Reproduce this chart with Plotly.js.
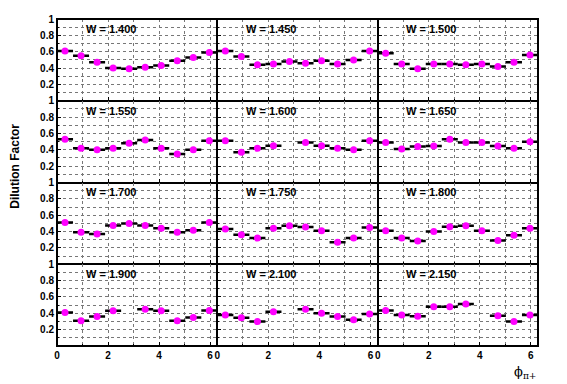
<!DOCTYPE html>
<html>
<head>
<meta charset="utf-8">
<script src="https://cdn.plot.ly/plotly-3.0.1.min.js"></script>
<style>
html,body{margin:0;padding:0;background:#fff;}
#chart{width:567px;height:384px;}
</style>
</head>
<body>
<div id="chart"></div>
<script>
// bin centres of phi_pi+ (10 bins over 0..2pi)
const phi = [0.314, 0.942, 1.571, 2.199, 2.827, 3.456, 4.084, 4.712, 5.341, 5.969];
const binHalfWidth = [0.314, 0.314, 0.314, 0.314, 0.314, 0.314, 0.314, 0.314, 0.314, 0.314];

const wLabels = ["W = 1.400", "W = 1.450", "W = 1.500",
                 "W = 1.550", "W = 1.600", "W = 1.650",
                 "W = 1.700", "W = 1.750", "W = 1.800",
                 "W = 1.900", "W = 2.100", "W = 2.150"];

const W1400 = [0.61, 0.55, 0.47, 0.40, 0.39, 0.41, 0.43, 0.49, 0.53, 0.59];
const W1450 = [0.61, 0.54, 0.44, 0.45, 0.48, 0.46, 0.49, 0.45, 0.50, 0.61];
const W1500 = [0.58, 0.45, 0.39, 0.45, 0.45, 0.44, 0.45, 0.42, 0.47, 0.56];
const W1550 = [0.53, 0.42, 0.40, 0.42, 0.48, 0.52, 0.42, 0.35, 0.40, 0.51];
const W1600 = [0.51, 0.37, 0.42, 0.45, null, 0.49, 0.45, 0.42, 0.40, 0.51];
const W1650 = [0.49, 0.41, 0.44, 0.445, 0.53, 0.49, 0.49, 0.445, 0.42, 0.50];
const W1700 = [0.51, 0.39, 0.37, 0.475, 0.50, 0.475, 0.44, 0.39, 0.415, 0.51];
const W1750 = [0.43, 0.36, 0.32, 0.44, 0.47, 0.455, 0.41, 0.27, 0.32, 0.45];
const W1800 = [0.41, 0.32, 0.285, 0.40, 0.46, 0.47, 0.41, 0.29, 0.355, 0.44];
const W1900 = [0.41, 0.31, 0.36, 0.43, null, 0.45, 0.43, 0.31, 0.35, 0.435];
const W2100 = [0.38, 0.345, 0.30, 0.42, null, 0.45, 0.40, 0.36, 0.32, 0.39];
const W2150 = [0.435, 0.38, 0.365, 0.48, 0.48, 0.515, null, 0.37, 0.30, 0.38];

const series = [W1400, W1450, W1500, W1550, W1600, W1650, W1700, W1750, W1800, W1900, W2100, W2150];

const yTickVals = [0.2, 0.4, 0.6, 0.8, 1];
const yTickText = ["0.2", "0.4", "0.6", "0.8", "1"];
const xTickVals = [0, 2, 4, 6];
const xTickText = ["0", "2", "4", "6"];

const FONT = "Liberation Sans, Arial, Helvetica, sans-serif";
const nCols = 3, nRows = 4;
const traces = [];
const annotations = [];
const layout = {
  width: 567, height: 384,
  margin: {l: 57, r: 29, t: 19, b: 38, pad: 0},
  paper_bgcolor: "#fff", plot_bgcolor: "#fff",
  showlegend: false,
  font: {family: FONT, size: 10, color: "#000"},
  shapes: [{
    type: "rect", xref: "paper", yref: "paper", x0: 0, x1: 1, y0: 0, y1: 1,
    line: {color: "#000", width: 2}, fillcolor: "rgba(0,0,0,0)", layer: "above"
  }]
};

series.forEach((vals, i) => {
  const r = Math.floor(i / nCols), c = i % nCols;
  const sfx = i === 0 ? "" : String(i + 1);
  const xa = "x" + sfx, ya = "y" + sfx;
  traces.push({
    type: "scatter", mode: "markers",
    x: phi, y: vals, xaxis: xa, yaxis: ya,
    marker: {color: "#ff00ff", size: 7, line: {width: 0}},
    error_x: {type: "data", symmetric: true, array: binHalfWidth, color: "#000", thickness: 2.5, width: 0},
    hoverinfo: "skip", cliponaxis: false
  });
  const common = {
    showline: true, mirror: true, linecolor: "#000", linewidth: 1,
    zeroline: false, ticks: "inside", ticklen: 4, tickwidth: 1, tickcolor: "#000",
    showgrid: true, gridcolor: "#777", griddash: "dot", gridwidth: 1,
    tickfont: {family: FONT, size: 10, weight: "bold", color: "#000"}
  };
  layout["xaxis" + sfx] = Object.assign({}, common, {
    domain: [c / nCols, (c + 1) / nCols],
    range: [0, 6.2832], anchor: ya,
    tickmode: "array", tickvals: xTickVals, ticktext: xTickText,
    showticklabels: r === nRows - 1,
    minor: {dtick: 1, tick0: 0, showgrid: true, gridcolor: "#777", griddash: "dot", gridwidth: 1, ticks: "inside", ticklen: 2, tickcolor: "#000"}
  });
  layout["yaxis" + sfx] = Object.assign({}, common, {
    domain: [1 - (r + 1) / nRows, 1 - r / nRows],
    range: [0, 1], anchor: xa,
    tickmode: "array", tickvals: yTickVals, ticktext: yTickText,
    showticklabels: c === 0,
    minor: {dtick: 0.1, tick0: 0, showgrid: true, gridcolor: "#777", griddash: "dot", gridwidth: 1, ticks: "inside", ticklen: 2, tickcolor: "#000"}
  });
  annotations.push({
    xref: xa, yref: ya, x: 1.05, y: 0.88, xanchor: "left", yanchor: "middle",
    text: wLabels[i], showarrow: false,
    font: {family: FONT, size: 11, weight: "bold", color: "#000"}
  });
});

annotations.push({
  xref: "paper", yref: "paper", x: -0.086, y: 0.55, xanchor: "center", yanchor: "middle",
  text: "Dilution Factor", textangle: -90, showarrow: false,
  font: {family: FONT, size: 12, weight: "bold", color: "#000"}
});
annotations.push({
  xref: "paper", yref: "paper", x: 1.0, y: -0.08, xanchor: "right", yanchor: "middle",
  text: "ϕ<sub>π+</sub>", showarrow: false,
  font: {family: "DejaVu Serif, serif", size: 13, color: "#000"}
});
layout.annotations = annotations;

Plotly.newPlot("chart", traces, layout, {displayModeBar: false, staticPlot: true});
</script>
</body>
</html>
